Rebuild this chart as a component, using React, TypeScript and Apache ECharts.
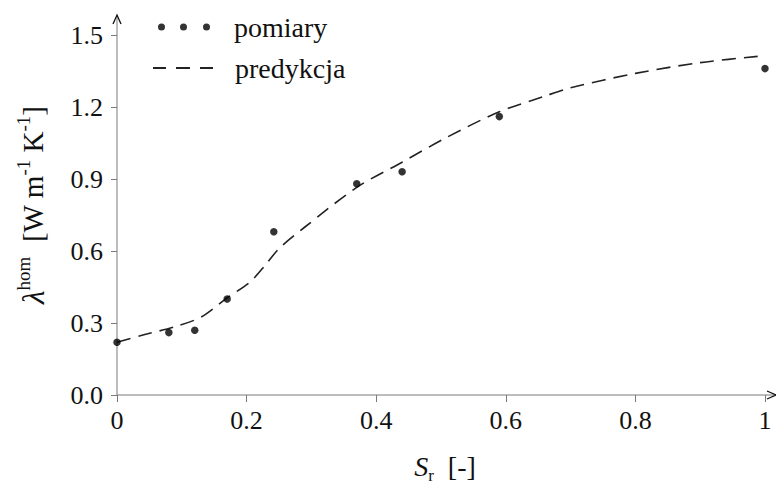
import React, { useEffect, useRef } from "react";
import * as echarts from "echarts";

const measX = [0, 0.08, 0.12, 0.17, 0.242, 0.37, 0.44, 0.59, 1.0];
const measY = [0.22, 0.26, 0.27, 0.4, 0.68, 0.88, 0.93, 1.16, 1.36];

const predX = [0, 0.04, 0.09, 0.13, 0.17, 0.205, 0.23, 0.25, 0.29, 0.37, 0.44, 0.51, 0.59, 0.66, 0.7, 0.8, 0.9, 1.0];
const predY = [0.22, 0.25, 0.285, 0.325, 0.405, 0.47, 0.545, 0.61, 0.7, 0.865, 0.97, 1.075, 1.18, 1.245, 1.28, 1.34, 1.385, 1.414];

const xTicks = { min: 0, max: 1, interval: 0.2 };
const yTicks = { min: 0, max: 1.5, interval: 0.3 };

const seriesNames = ["pomiary", "predykcja"];

const FONT = "'Liberation Serif', 'Times New Roman', serif";
const INK = "#111111";
const AXIS = "#7a7a7a";

const dotsIcon =
  "path://M0,3.5a3.5,3.5 0 1,0 7,0a3.5,3.5 0 1,0 -7,0M22,3.5a3.5,3.5 0 1,0 7,0a3.5,3.5 0 1,0 -7,0M45,3.5a3.5,3.5 0 1,0 7,0a3.5,3.5 0 1,0 -7,0";
const dashIcon = "path://M0,0h13v2h-13zM23,0h14v2h-14zM47,0h13v2h-13z";

export default function App() {
  const ref = useRef<HTMLDivElement>(null);
  useEffect(() => {
    if (!ref.current) return;
    const chart = echarts.init(ref.current, null, { renderer: "svg" });
    const gl = 117, gt = 35, gr = 11, gb = 89;
    const x0 = gl, y0 = 484 - gb;
    chart.setOption({
      animation: false,
      backgroundColor: "#ffffff",
      textStyle: { fontFamily: FONT },
      grid: { left: gl, right: gr, top: gt, bottom: gb },
      legend: [
        {
          data: [{ name: seriesNames[0], icon: dotsIcon }],
          left: 153,
          top: 8,
          itemWidth: 52,
          itemHeight: 7,
          textStyle: { fontFamily: FONT, fontSize: 28, color: INK, padding: [0, 0, 0, 19] },
          selectedMode: false,
        },
        {
          data: [{ name: seriesNames[1], icon: dashIcon }],
          left: 148,
          top: 49,
          itemWidth: 60,
          itemHeight: 2,
          itemStyle: { color: "#222222" },
          textStyle: { fontFamily: FONT, fontSize: 28, color: INK, padding: [0, 0, 0, 17] },
          selectedMode: false,
        },
      ],
      xAxis: {
        type: "value",
        min: xTicks.min,
        max: xTicks.max,
        interval: xTicks.interval,
        axisLine: { show: false },
        axisTick: { show: true, length: 7, lineStyle: { color: AXIS, width: 1 } },
        axisLabel: { fontFamily: FONT, fontSize: 26, color: INK, margin: 12 },
        splitLine: { show: false },
      },
      yAxis: {
        type: "value",
        min: yTicks.min,
        max: yTicks.max,
        interval: yTicks.interval,
        axisLine: { show: false },
        axisTick: { show: true, length: 6, lineStyle: { color: AXIS, width: 1 } },
        axisLabel: {
          fontFamily: FONT,
          fontSize: 26,
          color: INK,
          margin: 14,
          formatter: (v: number) => v.toFixed(1),
        },
        splitLine: { show: false },
      },
      graphic: [
        { type: "line", shape: { x1: x0, y1: y0, x2: x0, y2: 15 }, style: { stroke: AXIS, lineWidth: 1 }, z: 0 },
        { type: "polyline", shape: { points: [[x0 - 4, 24], [x0, 15], [x0 + 4, 24]] }, style: { stroke: INK, lineWidth: 1.3, fill: "none" } },
        { type: "line", shape: { x1: x0, y1: y0, x2: 775, y2: y0 }, style: { stroke: AXIS, lineWidth: 1 }, z: 0 },
        { type: "polyline", shape: { points: [[767, y0 - 4], [776, y0], [767, y0 + 4]] }, style: { stroke: INK, lineWidth: 1.3, fill: "none" } },
        {
          type: "text",
          x: 445,
          y: 466,
          style: {
            text: "{i|S}{sub|r}{n|  [-]}",
            align: "center",
            verticalAlign: "middle",
            rich: {
              i: { fontFamily: FONT, fontStyle: "italic", fontSize: 28, fill: INK, lineHeight: 36, verticalAlign: "middle" },
              sub: { fontFamily: FONT, fontSize: 17, fill: INK, lineHeight: 36, verticalAlign: "bottom" },
              n: { fontFamily: FONT, fontSize: 28, fill: INK, lineHeight: 36, verticalAlign: "middle" },
            },
          },
        },
        {
          type: "text",
          x: 33,
          y: 205,
          rotation: Math.PI / 2,
          style: {
            text: "{i|λ}{sup|hom}{n|  [W m}{sup|-1}{n| K}{sup|-1}{n|]}",
            align: "center",
            verticalAlign: "middle",
            rich: {
              i: { fontFamily: FONT, fontStyle: "italic", fontSize: 31, fill: INK, lineHeight: 38, verticalAlign: "middle" },
              sup: { fontFamily: FONT, fontSize: 19, fill: INK, lineHeight: 38, verticalAlign: "top" },
              n: { fontFamily: FONT, fontSize: 29, fill: INK, lineHeight: 38, verticalAlign: "middle" },
            },
          },
        },
      ],
      series: [
        {
          name: seriesNames[0],
          type: "scatter",
          data: measX.map((x, i) => [x, measY[i]]),
          symbol: "circle",
          symbolSize: 7.5,
          itemStyle: { color: "#000000" },
          z: 3,
        },
        {
          name: seriesNames[1],
          type: "line",
          data: predX.map((x, i) => [x, predY[i]]),
          smooth: 0.3,
          symbol: "none",
          lineStyle: { color: "#222222", width: 1.6, type: [14, 8] },
          itemStyle: { color: "#222222" },
          z: 2,
        },
      ],
    });
    return () => chart.dispose();
  }, []);
  return <div ref={ref} style={{ width: 776, height: 484, position: "absolute", left: 0, top: 0 }} />;
}
